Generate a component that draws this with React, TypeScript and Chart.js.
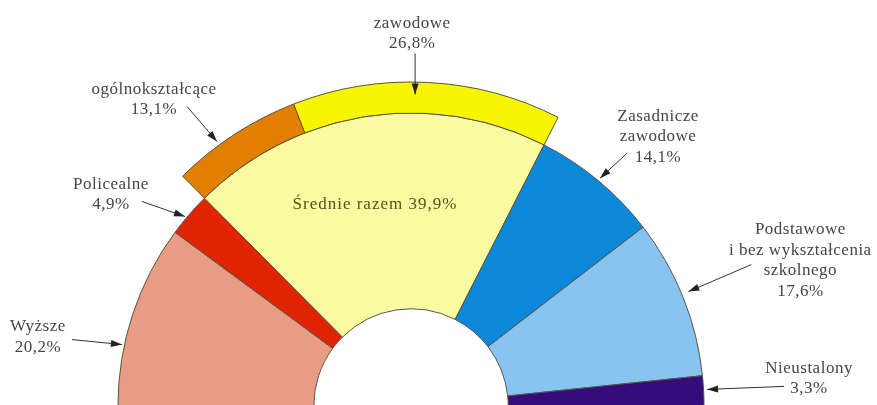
import React, { useEffect, useRef } from 'react';
import { Chart, registerables } from 'chart.js';

Chart.register(...registerables);

// ---- data ----
const categories = ['Wyższe', 'Policealne', 'Średnie razem', 'Zasadnicze zawodowe', 'Podstawowe i bez wykształcenia szkolnego', 'Nieustalony'];
const categoryLines = [['Wyższe'], ['Policealne'], ['Średnie razem'], ['Zasadnicze', 'zawodowe'], ['Podstawowe', 'i bez wykształcenia', 'szkolnego'], ['Nieustalony']];
const shares = [20.2, 4.9, 39.9, 14.1, 17.6, 3.3];
const colors = ['#E89C84', '#E02400', '#FAFAA0', '#0C88DA', '#88C4F0', '#360C7C'];

const srednieParts = ['ogólnokształcące', 'zawodowe'];
const srednieShares = [13.1, 26.8];
const srednieColors = ['#E27E00', '#F8F500'];
const srednieIndex = 2;

const fmt = (v: number) => v.toFixed(1).replace('.', ',') + '%';

// outer ring: the "Średnie" sector split into its parts, others invisible
const outerValues = [...shares.slice(0, srednieIndex), ...srednieShares, ...shares.slice(srednieIndex + 1)];
const isPart = (i: number) => i - srednieIndex >= 0 && i - srednieIndex < srednieShares.length;
const outerColors = outerValues.map((_, i) => (isPart(i) ? srednieColors[i - srednieIndex] : 'rgba(0,0,0,0)'));
const outerWidths = outerValues.map((_, i) => (isPart(i) ? 1 : 0));
const outerLabels = outerValues.map((_, i) => (isPart(i) ? srednieParts[i - srednieIndex] : ''));

// annotation layout: ds = dataset index (0 outer ring, 1 main ring), idx = element
type Ann = { ds: number; idx: number; lines: string[]; frac: number; pad: number; tail: [number, number]; text: [number, number] };
const annotations: Ann[] = [
  { ds: 1, idx: 0, lines: [...categoryLines[0], fmt(shares[0])], frac: 0.33, pad: 2.5, tail: [-50, -5], text: [-84, -18] },
  { ds: 1, idx: 1, lines: [...categoryLines[1], fmt(shares[1])], frac: 0.41, pad: 2, tail: [-43, -15], text: [-74, -32] },
  { ds: 0, idx: 2, lines: [srednieParts[0], fmt(srednieShares[0])], frac: 0.363, pad: 4, tail: [-30, -35], text: [-63, -52] },
  { ds: 0, idx: 3, lines: [srednieParts[1], fmt(srednieShares[1])], frac: 0.456, pad: -12.5, tail: [0, -41], text: [-3, -71] },
  { ds: 1, idx: 3, lines: [...categoryLines[3], fmt(shares[3])], frac: 0.5, pad: 3, tail: [27, -25], text: [58, -62] },
  { ds: 1, idx: 4, lines: [...categoryLines[4], fmt(shares[4])], frac: 0.48, pad: 7, tail: [63, -27], text: [112, -62] },
  { ds: 1, idx: 5, lines: [...categoryLines[5], fmt(shares[5])], frac: 0.46, pad: 3.5, tail: [77, -3], text: [102, -21] },
];

const FONT = '17px "Liberation Serif", "Times New Roman", serif';
const TEXT_COLOR = '#454545';
const LINE_H = 20.5;

const labelPlugin = {
  id: 'arrowLabels',
  afterDatasetsDraw(chart: any) {
    const ctx = chart.ctx as CanvasRenderingContext2D;
    ctx.save();
    ctx.font = FONT;
    (ctx as any).letterSpacing = '0.5px';
    ctx.textAlign = 'center';
    ctx.textBaseline = 'middle';
    for (const a of annotations) {
      const arc = chart.getDatasetMeta(a.ds).data[a.idx];
      if (!arc) continue;
      const p = arc.getProps(['x', 'y', 'startAngle', 'endAngle', 'outerRadius']);
      const ang = p.startAngle + a.frac * (p.endAngle - p.startAngle);
      const r = p.outerRadius + a.pad;
      const tx = p.x + r * Math.cos(ang);
      const ty = p.y + r * Math.sin(ang);
      const sx = tx + a.tail[0];
      const sy = ty + a.tail[1];
      ctx.strokeStyle = '#333';
      ctx.lineWidth = 1;
      ctx.beginPath();
      ctx.moveTo(sx, sy);
      ctx.lineTo(tx, ty);
      ctx.stroke();
      const th = Math.atan2(ty - sy, tx - sx);
      const L = 11, W = 3.5;
      ctx.fillStyle = '#222';
      ctx.beginPath();
      ctx.moveTo(tx, ty);
      ctx.lineTo(tx - L * Math.cos(th) + W * Math.sin(th), ty - L * Math.sin(th) - W * Math.cos(th));
      ctx.lineTo(tx - L * Math.cos(th) - W * Math.sin(th), ty - L * Math.sin(th) + W * Math.cos(th));
      ctx.closePath();
      ctx.fill();
      ctx.fillStyle = TEXT_COLOR;
      a.lines.forEach((ln, i) => {
        ctx.fillText(ln, tx + a.text[0], ty + a.text[1] + i * LINE_H);
      });
    }
    const arc = chart.getDatasetMeta(1).data[srednieIndex];
    if (arc) {
      const p = arc.getProps(['x', 'y', 'startAngle', 'endAngle', 'innerRadius', 'outerRadius']);
      const ang = p.startAngle + 0.483 * (p.endAngle - p.startAngle);
      const r = p.innerRadius + 0.55 * (p.outerRadius - p.innerRadius);
      (ctx as any).letterSpacing = '1px';
      ctx.fillStyle = '#52521e';
      ctx.fillText(categories[srednieIndex] + ' ' + fmt(shares[srednieIndex]), p.x + r * Math.cos(ang), p.y + r * Math.sin(ang));
    }
    ctx.restore();
  },
};

export default function App() {
  const ref = useRef<HTMLCanvasElement>(null);
  useEffect(() => {
    if (!ref.current) return;
    const chart = new Chart(ref.current, {
      type: 'doughnut',
      data: {
        labels: outerLabels,
        datasets: [
          {
            data: outerValues,
            backgroundColor: outerColors,
            borderColor: '#55553a',
            borderWidth: outerWidths,
            weight: 31,
          } as any,
          {
            data: shares,
            backgroundColor: colors,
            borderColor: '#55554a',
            borderWidth: 1,
            weight: 196,
          } as any,
        ],
      },
      options: {
        animation: false,
        responsive: false,
        events: [],
        rotation: -90,
        circumference: 180,
        cutout: '30%',
        layout: { padding: { left: 86.5, right: 141.5, top: 81.5, bottom: 3.5 } },
        plugins: { legend: { display: false }, tooltip: { enabled: false } },
      } as any,
      plugins: [labelPlugin],
    });
    return () => chart.destroy();
  }, []);
  return (
    <div style={{ position: 'absolute', left: 0, top: 0, width: 877, height: 405, overflow: 'hidden', background: '#fff' }}>
      <canvas ref={ref} width={877} height={410} style={{ display: 'block' }} />
    </div>
  );
}
